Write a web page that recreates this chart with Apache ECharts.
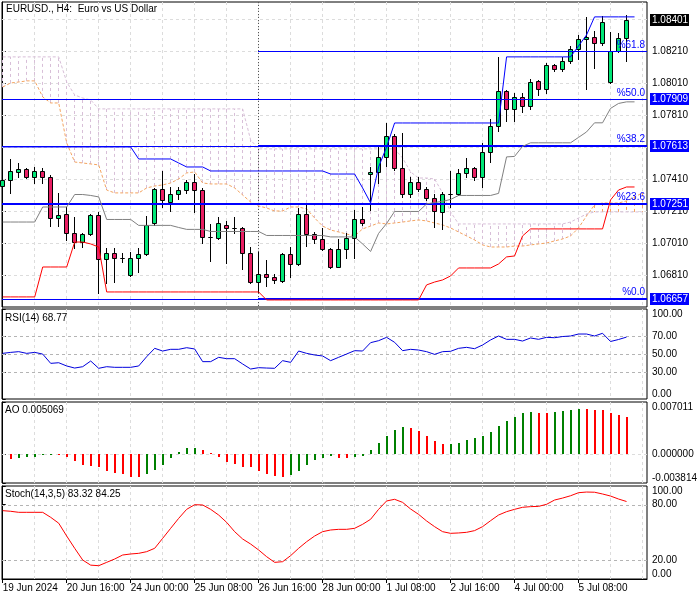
<!DOCTYPE html>
<html><head><meta charset="utf-8">
<script src="https://cdn.jsdelivr.net/npm/echarts@6/dist/echarts.min.js"></script>
<style>html,body{margin:0;padding:0;background:#fff}#c{width:700px;height:600px}</style>
</head><body><div id="c"></div><script>
// ---------- DATA ----------
const symbolTitle = 'EURUSD., H4:  Euro vs US Dollar';
const xTickBars = [0, 8, 16, 24, 32, 40, 48, 56, 64, 72];
const xTickLabels = ['19 Jun 2024','20 Jun 16:00','24 Jun 00:00','25 Jun 08:00','26 Jun 16:00','28 Jun 00:00','1 Jul 08:00','2 Jul 16:00','4 Jul 00:00','5 Jul 08:00'];
const gridBars = [4,8,12,16,20,24,28,32,36,40,44,48,52,56,60,64,68,72,76,80];

const openP  = [1.07366,1.07404,1.07454,1.07473,1.07423,1.07460,1.07423,1.07166,1.07191,1.07073,1.07016,1.07066,1.07185,1.06910,1.06948,1.06916,1.06810,1.06916,1.06941,1.07135,1.07348,1.07266,1.07316,1.07341,1.07391,1.07341,1.07048,1.07041,1.07123,1.07104,1.07104,1.06948,1.06766,1.06816,1.06798,1.06773,1.06941,1.06879,1.07191,1.07066,1.07035,1.06973,1.06860,1.06973,1.07041,1.07160,1.07441,1.07454,1.07548,1.07679,1.07479,1.07316,1.07391,1.07348,1.07291,1.07204,1.07316,1.07316,1.07448,1.07479,1.07423,1.07579,1.07741,1.07960,1.07848,1.07923,1.07866,1.08023,1.07973,1.08123,1.08098,1.08148,1.08223,1.08285,1.08298,1.08260,1.08016,1.08210,1.08291];
const highP  = [1.07416,1.07535,1.07510,1.07479,1.07485,1.07479,1.07435,1.07323,1.07235,1.07173,1.07073,1.07191,1.07204,1.06979,1.06979,1.06948,1.06954,1.06979,1.07179,1.07354,1.07460,1.07360,1.07360,1.07404,1.07441,1.07354,1.07129,1.07173,1.07148,1.07173,1.07108,1.06985,1.06954,1.06904,1.06816,1.06948,1.06985,1.07229,1.07260,1.07079,1.07104,1.06979,1.07035,1.07073,1.07216,1.07235,1.07485,1.07610,1.07760,1.07691,1.07698,1.07423,1.07423,1.07360,1.07316,1.07329,1.07460,1.07473,1.07541,1.07485,1.07635,1.07785,1.08173,1.07966,1.07948,1.07948,1.08035,1.08029,1.08135,1.08129,1.08173,1.08241,1.08310,1.08423,1.08335,1.08429,1.08329,1.08323,1.08435];
const lowP   = [1.07354,1.07323,1.07423,1.07416,1.07385,1.07385,1.07116,1.07116,1.07029,1.06979,1.06985,1.07060,1.06698,1.06760,1.06766,1.06891,1.06804,1.06829,1.06935,1.07123,1.07235,1.07210,1.07285,1.07323,1.07204,1.07010,1.06898,1.07035,1.06885,1.07073,1.06848,1.06760,1.06704,1.06741,1.06760,1.06766,1.06798,1.06873,1.06991,1.07010,1.06966,1.06854,1.06858,1.06916,1.06916,1.07123,1.07216,1.07385,1.07491,1.07466,1.07298,1.07298,1.07335,1.07279,1.07110,1.07098,1.07235,1.07310,1.07423,1.07404,1.07360,1.07516,1.07710,1.07773,1.07773,1.07829,1.07848,1.07935,1.07948,1.08085,1.08085,1.08135,1.08160,1.07973,1.08104,1.08248,1.08010,1.08204,1.08148];
const closeP = [1.07404,1.07460,1.07473,1.07423,1.07460,1.07423,1.07166,1.07185,1.07073,1.07016,1.07066,1.07185,1.06910,1.06948,1.06916,1.06918,1.06916,1.06941,1.07123,1.07348,1.07279,1.07316,1.07341,1.07391,1.07341,1.07048,1.07046,1.07135,1.07104,1.07102,1.06948,1.06766,1.06816,1.06798,1.06779,1.06941,1.06879,1.07191,1.07066,1.07035,1.06973,1.06860,1.06973,1.07041,1.07160,1.07135,1.07454,1.07548,1.07679,1.07479,1.07316,1.07391,1.07348,1.07291,1.07210,1.07316,1.07318,1.07448,1.07479,1.07423,1.07579,1.07741,1.07960,1.07848,1.07923,1.07866,1.08016,1.07973,1.08123,1.08098,1.08148,1.08223,1.08285,1.08298,1.08260,1.08391,1.08210,1.08291,1.08401];

// Channel (plotted one bar ahead, 80 points)
const channelUpper = [1.07610,1.07610,1.07610,1.07610,1.07610,1.07610,1.07610,1.07610,1.07610,1.07610,1.07610,1.07610,1.07610,1.07610,1.07610,1.07610,1.07610,1.07535,1.07535,1.07535,1.07535,1.07535,1.07510,1.07485,1.07485,1.07485,1.07460,1.07460,1.07460,1.07460,1.07460,1.07460,1.07460,1.07460,1.07460,1.07460,1.07460,1.07460,1.07460,1.07460,1.07460,1.07441,1.07441,1.07441,1.07441,1.07354,1.07260,1.07485,1.07610,1.07760,1.07760,1.07760,1.07760,1.07760,1.07760,1.07760,1.07760,1.07760,1.07760,1.07760,1.07760,1.07760,1.07760,1.08173,1.08173,1.08173,1.08173,1.08173,1.08173,1.08173,1.08173,1.08173,1.08241,1.08310,1.08423,1.08423,1.08423,1.08423,1.08423,1.08423];
const channelLower = [1.06673,1.06673,1.06673,1.06673,1.06673,1.06860,1.06860,1.06860,1.06860,1.07016,1.07016,1.07004,1.06985,1.06704,1.06704,1.06704,1.06704,1.06704,1.06704,1.06704,1.06704,1.06704,1.06704,1.06704,1.06704,1.06704,1.06704,1.06704,1.06704,1.06704,1.06704,1.06704,1.06704,1.06654,1.06654,1.06654,1.06654,1.06654,1.06654,1.06654,1.06654,1.06654,1.06654,1.06654,1.06654,1.06654,1.06654,1.06654,1.06654,1.06654,1.06654,1.06654,1.06654,1.06748,1.06766,1.06779,1.06804,1.06854,1.06854,1.06854,1.06854,1.06854,1.06879,1.06923,1.06929,1.07054,1.07098,1.07098,1.07098,1.07098,1.07098,1.07098,1.07098,1.07098,1.07098,1.07098,1.07279,1.07341,1.07360,1.07360];
const channelMiddle = [1.07141,1.07141,1.07141,1.07141,1.07141,1.07235,1.07235,1.07235,1.07235,1.07313,1.07313,1.07307,1.07298,1.07157,1.07157,1.07157,1.07157,1.07120,1.07120,1.07120,1.07120,1.07120,1.07107,1.07095,1.07095,1.07095,1.07082,1.07082,1.07082,1.07082,1.07082,1.07082,1.07082,1.07057,1.07057,1.07057,1.07057,1.07057,1.07057,1.07057,1.07057,1.07048,1.07048,1.07048,1.07048,1.07004,1.06957,1.07070,1.07132,1.07207,1.07207,1.07207,1.07207,1.07254,1.07263,1.07270,1.07282,1.07307,1.07307,1.07307,1.07307,1.07307,1.07320,1.07548,1.07551,1.07614,1.07636,1.07636,1.07636,1.07636,1.07636,1.07636,1.07670,1.07704,1.07761,1.07761,1.07851,1.07882,1.07892,1.07892];

// Ichimoku spans (81 points, cloud runs past the last bar)
const spanA = [1.07985,1.08010,1.08016,1.08023,1.08023,1.07923,1.07885,1.07885,1.07635,1.07516,1.07510,1.07504,1.07498,1.07341,1.07323,1.07323,1.07323,1.07323,1.07354,1.07366,1.07373,1.07385,1.07410,1.07448,1.07454,1.07385,1.07379,1.07379,1.07379,1.07354,1.07310,1.07266,1.07241,1.07229,1.07210,1.07210,1.07235,1.07235,1.07223,1.07166,1.07116,1.07091,1.07079,1.07066,1.07054,1.07098,1.07116,1.07135,1.07129,1.07135,1.07141,1.07148,1.07154,1.07148,1.07135,1.07123,1.07104,1.07079,1.07054,1.07029,1.06998,1.06985,1.06985,1.06985,1.06991,1.06991,1.06998,1.07004,1.07010,1.07023,1.07035,1.07054,1.07104,1.07179,1.07248,1.07260,1.07260,1.07260,1.07273,1.07298,1.07323];
const spanB = [1.08173,1.08173,1.08173,1.08173,1.08173,1.08173,1.08173,1.08173,1.08016,1.07935,1.07916,1.07904,1.07848,1.07848,1.07848,1.07848,1.07848,1.07848,1.07848,1.07848,1.07848,1.07848,1.07848,1.07848,1.07848,1.07848,1.07848,1.07848,1.07848,1.07848,1.07848,1.07654,1.07598,1.07598,1.07598,1.07598,1.07598,1.07598,1.07598,1.07598,1.07598,1.07598,1.07598,1.07598,1.07598,1.07598,1.07598,1.07598,1.07598,1.07598,1.07541,1.07454,1.07416,1.07416,1.07410,1.07323,1.07204,1.07129,1.07129,1.07129,1.07129,1.07129,1.07129,1.07129,1.07129,1.07129,1.07129,1.07129,1.07129,1.07129,1.07129,1.07141,1.07166,1.07191,1.07204,1.07204,1.07204,1.07204,1.07204,1.07204,1.07204];

// Levels
const lineLevels = [1.07909, 1.07613, 1.07251, 1.06657];
const fibStartBar = 32;
const fibNames  = ['%61.8', '%50.0', '%38.2', '%23.6', '%0.0'];
const fibPrices = [1.08210, 1.07909, 1.07613, 1.07251, 1.06657];
const lastPrice = 1.08401;
const priceTicks = [1.0681,1.0701,1.0721,1.0741,1.0781,1.0801,1.0821];
const priceGrid  = [1.0681,1.0701,1.0721,1.0741,1.0761,1.0781,1.0801,1.0821,1.0841];

// Oscillators (79 bars)
const rsi = [50.7,51.8,52.6,50.7,51.8,49.9,39.6,40.3,36.7,34.4,35.9,42.2,34.1,35.9,35.2,35.2,35.2,36.7,47.0,56.3,53.3,55.2,55.2,57.0,55.6,41.5,41.5,46.3,44.8,44.8,38.9,33.3,34.8,34.4,34.1,42.6,40.7,53.3,50.7,48.9,47.8,42.6,46.3,50.0,53.7,53.3,62.6,64.8,68.5,63.0,53.7,55.2,54.4,52.6,49.6,52.6,53.0,56.3,57.4,55.9,60.0,65.6,70.0,66.3,66.3,64.4,67.8,66.3,68.5,68.1,69.4,70.0,72.2,72.2,70.0,73.0,63.9,66.1,68.77];
const rsiLevels = [70, 50, 30];
const ao = [null,-0.00065,-0.00051,-0.00038,-0.00036,0.00007,0.00008,0.00003,-0.00038,-0.00082,-0.00140,-0.00149,-0.00171,-0.00216,-0.00243,-0.00256,-0.00296,-0.00305,-0.00265,-0.00207,-0.00140,-0.00051,0.00038,0.00091,0.00092,0.00060,0.00016,-0.00029,-0.00096,-0.00131,-0.00163,-0.00165,-0.00220,-0.00260,-0.00287,-0.00296,-0.00274,-0.00220,-0.00140,-0.00076,-0.00042,-0.00025,-0.00042,-0.00051,-0.00033,-0.00025,0.00060,0.00158,0.00252,0.00332,0.00372,0.00350,0.00318,0.00252,0.00185,0.00140,0.00145,0.00158,0.00189,0.00216,0.00252,0.00305,0.00381,0.00448,0.00501,0.00550,0.00568,0.00554,0.00552,0.00563,0.00575,0.00595,0.00612,0.00610,0.00598,0.00594,0.00552,0.00530,0.005069];
const aoMin = -0.003814, aoMax = 0.007011;
const stoch = [73.5,72.8,71.7,71.7,71.7,71.7,66.3,60.0,46.2,33.0,20.4,14.9,14.3,17.9,21.5,25.8,26.9,27.6,29.4,33.0,43.7,54.5,65.2,74.9,79.9,79.6,74.9,68.8,60.9,50.9,43.0,37.6,31.2,24.0,17.9,18.6,25.1,33.0,40.1,46.2,50.9,52.7,53.4,53.4,54.5,58.8,64.2,74.9,83.9,85.7,82.4,75.3,69.5,62.4,56.3,50.9,49.1,49.5,50.2,52.0,56.3,62.7,68.8,72.4,74.9,77.1,77.8,78.1,80.3,84.9,87.0,89.5,92.8,93.5,93.3,91.4,89.2,86.0,83.32];
const stochSignalLast = 84.25;
const stochLevels = [80, 20];

// ---------- STYLE ----------
const FONT = 'Liberation Sans, Arial, sans-serif';
const UP = '#00E676', DOWN = '#E91E63';
const THISTLE = '#D8BFD8', SANDY = '#F4A460';
const GRIDC = '#dcdcdc';
const BLUE = '#0000ff';
const X_MIN = -0.09, X_MAX = 80.56;
const LEVEL_W = [1, 1, 2, 1];
const FIB_W = [1, 1, 2, 2, 2];

const grids = [
  {left:2, right:53, top:2,   height:305},
  {left:2, right:53, top:309, height:90},
  {left:2, right:53, top:402, height:81},
  {left:2, right:53, top:486, height:93}
].map(g => Object.assign({show:true, borderColor:'#000', borderWidth:1, backgroundColor:'#fff', containLabel:false, outerBoundsMode:'none'}, g));

const xAxes = grids.map((g, k) => {
  const last = k === 3;
  return {
    type:'value', gridIndex:k, min:X_MIN, max:X_MAX,
    splitLine:{show:false},
    axisLine:{show:last, lineStyle:{color:'#000'}},
    axisTick:{show:last, customValues:xTickBars, length:4, lineStyle:{color:'#000'}},
    axisLabel:{show:last, customValues:xTickBars, align:'left', margin:4, fontSize:10, fontFamily:FONT, color:'#000',
      formatter: v => { const j = xTickBars.indexOf(Math.round(v)); return j >= 0 ? xTickLabels[j] : ''; }}
  };
});

function yAxisBase(k, min, max, ticks, fmt, edgeAlign) {
  const lab = {show:true, customValues:ticks, margin:5, fontSize:10, fontFamily:FONT, color:'#000', formatter:fmt};
  if (edgeAlign) { lab.verticalAlignMaxLabel = 'top'; lab.verticalAlignMinLabel = 'bottom'; }
  return {
    type:'value', gridIndex:k, position:'right', min, max, scale:true,
    splitLine:{show:false},
    axisLine:{show:true, lineStyle:{color:'#000'}},
    axisTick:{show:true, customValues:ticks, length:3, lineStyle:{color:'#000'}},
    axisLabel: lab
  };
}
const yAxes = [
  yAxisBase(0, 1.06610, 1.08516, priceTicks, v => v.toFixed(5), false),
  yAxisBase(1, 0, 100, [0, 30, 50, 70, 100], v => v.toFixed(2), true),
  yAxisBase(2, aoMin, aoMax, [aoMin, 0, aoMax], v => v.toFixed(6), true),
  yAxisBase(3, 0, 100, [0, 20, 80, 100], v => v.toFixed(2), true)
];

// grid line helpers
function vGridSeries(k) {
  return {type:'custom', xAxisIndex:k, yAxisIndex:k, z:1, silent:true, animation:false,
    data: gridBars.map(b => [b]),
    renderItem:(params, api) => {
      const cs = params.coordSys;
      const x = Math.floor(api.coord([api.value(0), yAxes[k].min])[0]) + 0.5;
      return {type:'line', shape:{x1:x, y1:cs.y, x2:x, y2:cs.y + cs.height}, style:{stroke:GRIDC, lineWidth:1, lineDash:[3,3]}};
    }};
}
function hGridSeries(k, levels, color) {
  return {type:'custom', xAxisIndex:k, yAxisIndex:k, z:1, silent:true, animation:false,
    data: levels.map(v => [0, v]),
    renderItem:(params, api) => {
      const cs = params.coordSys;
      const y = Math.round(api.coord([0, api.value(1)])[1]) + 0.5;
      return {type:'line', shape:{x1:cs.x, y1:y, x2:cs.x + cs.width, y2:y}, style:{stroke:color, lineWidth:1, lineDash:[3,3]}};
    }};
}

// candles
const candleData = openP.map((o, i) => [i, o, highP[i], lowP[i], closeP[i]]);
function renderCandle(params, api) {
  const i = api.value(0), o = api.value(1), h = api.value(2), l = api.value(3), c = api.value(4);
  const po = api.coord([i, o]);
  const col = Math.floor(po[0]);
  const yo = Math.round(po[1]), yc = Math.round(api.coord([i, c])[1]);
  const yh = Math.round(api.coord([i, h])[1]), yl = Math.round(api.coord([i, l])[1]);
  const top = Math.min(yo, yc), bot = Math.max(yo, yc);
  const fill = c > o ? UP : (c < o ? DOWN : '#000');
  return {type:'group', children:[
    {type:'line', shape:{x1:col + 0.5, y1:yh, x2:col + 0.5, y2:yl + 1}, style:{stroke:'#000', lineWidth:1}},
    {type:'rect', shape:{x:col - 1.5, y:top + 0.5, width:4, height:bot - top}, style:{fill:fill, stroke:'#000', lineWidth:1}}
  ]};
}

// cloud hatch
const hatchData = spanA.map((a, i) => [i, a, spanB[i]]);
function renderHatch(params, api) {
  const i = api.value(0), a = api.value(1), b = api.value(2);
  const pa = api.coord([i, a]), pb = api.coord([i, b]);
  const x = Math.floor(pa[0]) + 0.5;
  return {type:'line', shape:{x1:x, y1:pa[1], x2:x, y2:pb[1]}, style:{stroke: b >= a ? THISTLE : SANDY, lineWidth:1, lineDash:[3,3]}};
}

// AO bars (colour: rising green, falling red)
const aoData = ao.map((v, i) => [i, v == null ? NaN : v, (i > 0 && ao[i - 1] != null) ? ao[i - 1] : 0]);
function renderAO(params, api) {
  const i = api.value(0), v = api.value(1), prev = api.value(2);
  if (isNaN(v)) return null;
  const p0 = api.coord([i, 0]), p1 = api.coord([i, v]);
  const col = Math.floor(p0[0]);
  const y0 = Math.round(p0[1]), y1 = Math.round(p1[1]);
  return {type:'rect', shape:{x:col, y:Math.min(y0, y1), width:2, height:Math.max(1, Math.abs(y1 - y0))},
    style:{fill: v > prev ? '#008000' : '#ff0000'}};
}

// horizontal level lines (as filled rects, crisp) + price boxes on the axis
function hBar(x1, x2, y, w) {
  return {type:'rect', shape:{x:x1, y: w === 2 ? y - 1 : y, width:x2 - x1, height:w}, style:{fill:BLUE}};
}
function priceBox(cs, y, text, bg) {
  return [
    {type:'rect', shape:{x:cs.x + cs.width + 3, y:y - 6, width:39, height:12}, style:{fill:bg}},
    {type:'text', style:{x:cs.x + cs.width + 5, y:y + 0.5, text:text, fill:'#fff', font:'10px ' + FONT, align:'left', verticalAlign:'middle'}}
  ];
}
function renderLevel(params, api) {
  const cs = params.coordSys, v = api.value(1), w = LEVEL_W[params.dataIndex];
  const y = Math.round(api.coord([0, v])[1]);
  return {type:'group', children:[hBar(cs.x, cs.x + cs.width, y, w)].concat(priceBox(cs, y, v.toFixed(5), BLUE))};
}
function renderLast(params, api) {
  const cs = params.coordSys, v = api.value(1);
  const y = Math.round(api.coord([0, v])[1]);
  return {type:'group', children: priceBox(cs, y, v.toFixed(5), '#000')};
}
function renderFib(params, api) {
  const cs = params.coordSys, v = api.value(1), w = FIB_W[params.dataIndex];
  const p = api.coord([api.value(0), v]);
  const x1 = Math.floor(p[0]), y = Math.round(p[1]);
  const x2 = cs.x + cs.width;
  return {type:'group', children:[
    hBar(x1, x2, y, w),
    {type:'text', style:{x:x2 - 2, y:y - (w === 2 ? 2 : 1), text:fibNames[params.dataIndex], fill:BLUE, font:'10px ' + FONT, align:'right', verticalAlign:'bottom'}}
  ]};
}
function renderSeparator(params, api) {
  const cs = params.coordSys;
  const x = Math.floor(api.coord([api.value(0), 1.07])[0]) + 0.5;
  return {type:'line', shape:{x1:x, y1:cs.y, x2:x, y2:cs.y + cs.height}, style:{stroke:'#555', lineWidth:1, lineDash:[1,2]}};
}

const pts = arr => arr.map((v, i) => [i, v]);

const series = [
  vGridSeries(0), vGridSeries(1), vGridSeries(2), vGridSeries(3),
  hGridSeries(0, priceGrid, GRIDC),
  hGridSeries(1, rsiLevels, '#b4b4b4'),
  hGridSeries(2, [0], GRIDC),
  hGridSeries(3, stochLevels, '#b4b4b4'),
  {type:'custom', name:'cloud', xAxisIndex:0, yAxisIndex:0, z:2, silent:true, data:hatchData, renderItem:renderHatch},
  {type:'line', name:'spanA', xAxisIndex:0, yAxisIndex:0, z:3, data:pts(spanA), symbol:'none', silent:true,
    lineStyle:{color:SANDY, width:1, type:[3,2]}},
  {type:'line', name:'spanB', xAxisIndex:0, yAxisIndex:0, z:3, data:pts(spanB), symbol:'none', silent:true,
    lineStyle:{color:THISTLE, width:1, type:[3,2]}},
  {type:'custom', name:'separator', xAxisIndex:0, yAxisIndex:0, z:3, silent:true, data:[[fibStartBar]], renderItem:renderSeparator},
  {type:'custom', name:'candles', xAxisIndex:0, yAxisIndex:0, z:4, silent:true, data:candleData, renderItem:renderCandle},
  {type:'custom', name:'levels', xAxisIndex:0, yAxisIndex:0, z:5, silent:true, clip:false, data:lineLevels.map(v => [0, v]), renderItem:renderLevel},
  {type:'custom', name:'fib', xAxisIndex:0, yAxisIndex:0, z:5, silent:true, clip:false, data:fibPrices.map(v => [fibStartBar, v]), renderItem:renderFib},
  {type:'custom', name:'last', xAxisIndex:0, yAxisIndex:0, z:7, silent:true, clip:false, data:[[0, lastPrice]], renderItem:renderLast},
  {type:'line', name:'chMid', xAxisIndex:0, yAxisIndex:0, z:6, data:pts(channelMiddle), symbol:'none', silent:true,
    lineStyle:{color:'#808080', width:1}},
  {type:'line', name:'chLow', xAxisIndex:0, yAxisIndex:0, z:6, data:pts(channelLower), symbol:'none', silent:true,
    lineStyle:{color:'#ff0000', width:1}},
  {type:'line', name:'chUp', xAxisIndex:0, yAxisIndex:0, z:6, data:pts(channelUpper), symbol:'none', silent:true,
    lineStyle:{color:BLUE, width:1}},
  {type:'line', name:'rsi', xAxisIndex:1, yAxisIndex:1, z:5, data:pts(rsi), symbol:'none', silent:true,
    lineStyle:{color:'#0000dd', width:1}},
  {type:'custom', name:'ao', xAxisIndex:2, yAxisIndex:2, z:5, silent:true, data:aoData, renderItem:renderAO},
  {type:'line', name:'stoch', xAxisIndex:3, yAxisIndex:3, z:5, data:pts(stoch), symbol:'none', silent:true,
    lineStyle:{color:'#ff0000', width:1}}
];

const txt = (x, y, s) => ({type:'text', left:x, top:y, z:100, silent:true,
  style:{text:s, fill:'#000', font:'10px ' + FONT}});

const option = {
  animation:false,
  backgroundColor:'#fff',
  grid: grids, xAxis: xAxes, yAxis: yAxes, series: series,
  graphic: [
    txt(6, 4, symbolTitle),
    txt(5, 313, 'RSI(14) ' + rsi[rsi.length - 1].toFixed(2)),
    txt(5, 405, 'AO ' + ao[ao.length - 1].toFixed(6)),
    txt(5, 489, 'Stoch(14,3,5) ' + stoch[stoch.length - 1].toFixed(2) + ' ' + stochSignalLast.toFixed(2))
  ]
};
const chart = echarts.init(document.getElementById('c'), null, {renderer:'canvas', width:700, height:600});
chart.setOption(option);
</script></body></html>
